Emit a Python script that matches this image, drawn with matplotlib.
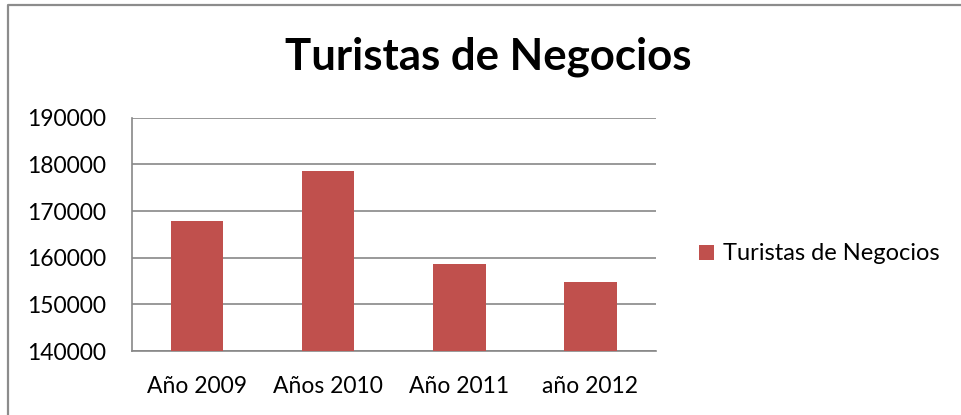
import matplotlib
matplotlib.use("Agg")
import matplotlib.pyplot as plt
from matplotlib.lines import Line2D

categories = ["Año 2009", "Años 2010", "Año 2011", "año 2012"]
values = [167900, 178600, 158600, 154700]
series_name = "Turistas de Negocios"
title = "Turistas de Negocios"
yticks = [140000, 150000, 160000, 170000, 180000, 190000]

plt.rcParams['font.family'] = ['Lato', 'DejaVu Sans']

W, H = 961, 415
fig = plt.figure(figsize=(W / 100, H / 100), dpi=100)
fig.patch.set_facecolor("white")

ax = fig.add_axes([131.5 / W, 1 - 351 / H, (656 - 131.5) / W, (351 - 117.7) / H])
x = list(range(len(categories)))
ax.bar(x, values, width=0.40, color="#C0504D", label=series_name, zorder=3)
ax.set_xlim(-0.5, len(categories) - 0.5)
ax.set_ylim(140000, 190000)
ax.set_yticks(yticks)
ax.set_yticklabels([str(v) for v in yticks], fontsize=16.5)
ax.set_xticks(x)
ax.set_xticklabels(categories, fontsize=16.5)
ax.yaxis.grid(True, color="#878787", linewidth=1.2, zorder=0)
for s in ["top", "right"]:
    ax.spines[s].set_visible(False)
for s in ["left", "bottom"]:
    ax.spines[s].set_color("#878787")
    ax.spines[s].set_linewidth(1.2)
ax.tick_params(axis="y", length=0, pad=18)
ax.tick_params(axis="x", length=0, pad=18)

fig.text(488 / W, 1 - 57 / H, title, fontsize=31.5, fontweight="bold",
         ha="center", va="center")

leg = ax.legend(loc="center left", bbox_to_anchor=(699 / W, 1 - 254 / H),
                bbox_transform=fig.transFigure, frameon=False, fontsize=17,
                handlelength=0.62, handleheight=0.62, handletextpad=0.4,
                borderpad=0, borderaxespad=0)

bx, by = 7.5 / W, 1 - 5.5 / H
fig.lines.append(Line2D([bx, bx, 1.01], [-0.01, by, by], transform=fig.transFigure,
                        color="#8c8c8c", linewidth=1.6))

fig.savefig("out.png", dpi=100)
